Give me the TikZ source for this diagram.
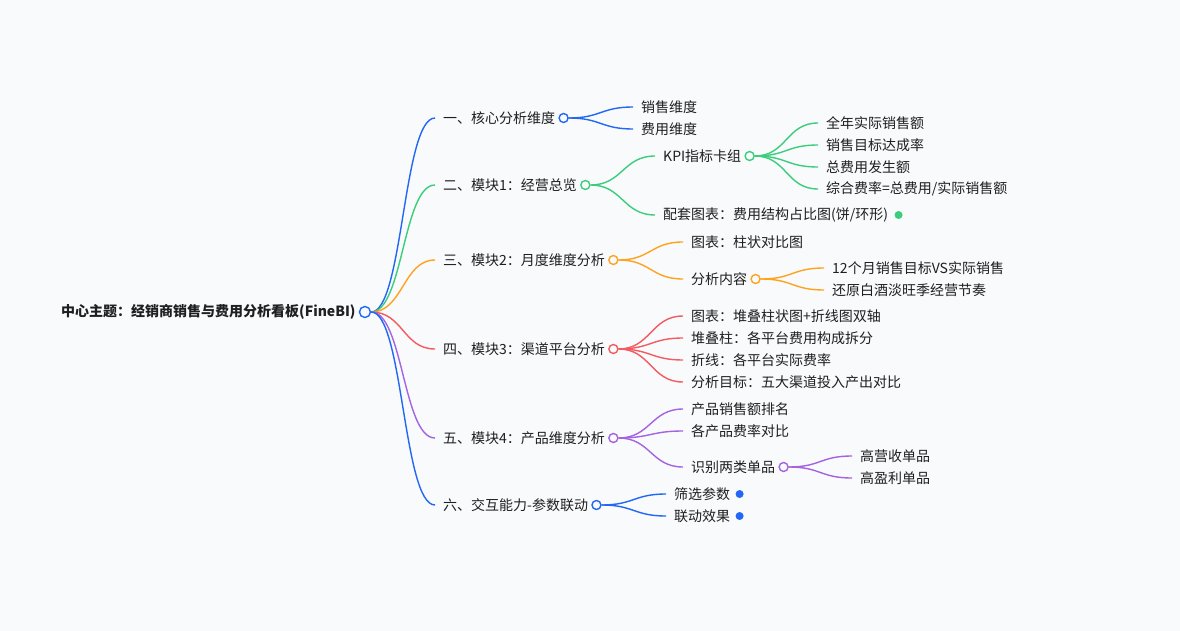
\documentclass[tikz,border=0pt]{standalone}
\usepackage{fontspec}
\setmainfont{Noto Sans CJK SC}
\usepackage{xcolor}
\usetikzlibrary{positioning}
\definecolor{paper}{HTML}{F8FAFC}
\definecolor{mmblue}{HTML}{2268F5}
\definecolor{mmgreen}{HTML}{3CCD7C}
\definecolor{mmorange}{HTML}{FFA31F}
\definecolor{mmred}{HTML}{F45B60}
\definecolor{mmpurple}{HTML}{A463E0}

\begin{document}
\begin{tikzpicture}[x=1pt,y=-1pt,
  every node/.style={font=\fontsize{14}{16}\selectfont, text=black!88, inner sep=0pt, anchor=west},
  hub/.style={circle, draw=#1, fill=paper, line width=1.4pt, minimum size=9pt},
  leafdot/.style={circle, fill=#1, minimum size=8pt},
  link/.style={draw=#1, line width=1.4pt}]
  \fill[paper] (0,0) rectangle (1180,631);

  \begin{scope}[yshift=-1pt]
  % root
  \node[font=\bfseries\fontsize{14}{16}\selectfont] (root) at (61,311) {中心主题：经销商销售与费用分析看板(FineBI)};
  \node[hub=mmblue, minimum size=11pt, right=3pt of root] (rootO) {};

  % first level
  \node (m1) at (443,117) {一、核心分析维度};
  \node[hub=mmblue, right=3pt of m1] (m1O) {};
  \node (m2) at (443,184) {二、模块1：经营总览};
  \node[hub=mmgreen, right=3pt of m2] (m2O) {};
  \node (m3) at (443,259) {三、模块2：月度维度分析};
  \node[hub=mmorange, right=3pt of m3] (m3O) {};
  \node (m4) at (443,348) {四、模块3：渠道平台分析};
  \node[hub=mmred, right=3pt of m4] (m4O) {};
  \node (m5) at (443,437) {五、模块4：产品维度分析};
  \node[hub=mmpurple, right=3pt of m5] (m5O) {};
  \node (m6) at (443,504) {六、交互能力-参数联动};
  \node[hub=mmblue, right=3pt of m6] (m6O) {};

  % second level
  \node (a1) at (641,106) {销售维度};
  \node (a2) at (641,128) {费用维度};

  \node (b1) at (663,155) {KPI指标卡组};
  \node[hub=mmgreen, right=3pt of b1] (b1O) {};
  \node (b2) at (663,214) {配套图表：费用结构占比图(饼/环形)};
  \node[leafdot=mmgreen, right=6pt of b2] (b2D) {};

  \node (c1) at (691,241) {图表：柱状对比图};
  \node (c2) at (691,278) {分析内容};
  \node[hub=mmorange, right=3pt of c2] (c2O) {};

  \node (d1) at (691,315) {图表：堆叠柱状图+折线图双轴};
  \node (d2) at (691,337) {堆叠柱：各平台费用构成拆分};
  \node (d3) at (691,359) {折线：各平台实际费率};
  \node (d4) at (691,381) {分析目标：五大渠道投入产出对比};

  \node (e1) at (691,408) {产品销售额排名};
  \node (e2) at (691,430) {各产品费率对比};
  \node (e3) at (691,466) {识别两类单品};
  \node[hub=mmpurple, right=3pt of e3] (e3O) {};

  \node (f1) at (674,493) {筛选参数};
  \node[leafdot=mmblue, right=5pt of f1] (f1D) {};
  \node (f2) at (674,515) {联动效果};
  \node[leafdot=mmblue, right=5pt of f2] (f2D) {};

  % third level
  \node (b11) at (826,122) {全年实际销售额};
  \node (b12) at (826,144) {销售目标达成率};
  \node (b13) at (826,166) {总费用发生额};
  \node (b14) at (826,188) {综合费率=总费用/实际销售额};

  \node (c21) at (832,267) {12个月销售目标VS实际销售};
  \node (c22) at (832,289) {还原白酒淡旺季经营节奏};

  \node (e31) at (860,455) {高营收单品};
  \node (e32) at (860,477) {高盈利单品};

  % connectors
  \foreach \c/\col in {m1/mmblue,m2/mmgreen,m3/mmorange,m4/mmred,m5/mmpurple,m6/mmblue}
    \draw[link=\col] (rootO.east) .. controls +(32,0) and +(-32,0) .. ([xshift=-8pt]\c.west);

  \foreach \p/\c/\col in {m1O/a1/mmblue,m1O/a2/mmblue,
      m2O/b1/mmgreen,m2O/b2/mmgreen,
      m3O/c1/mmorange,m3O/c2/mmorange,
      m4O/d1/mmred,m4O/d2/mmred,m4O/d3/mmred,m4O/d4/mmred,
      m5O/e1/mmpurple,m5O/e2/mmpurple,m5O/e3/mmpurple,
      m6O/f1/mmblue,m6O/f2/mmblue,
      b1O/b11/mmgreen,b1O/b12/mmgreen,b1O/b13/mmgreen,b1O/b14/mmgreen,
      c2O/c21/mmorange,c2O/c22/mmorange,
      e3O/e31/mmpurple,e3O/e32/mmpurple}
    \draw[link=\col] (\p.east) .. controls +(32,0) and +(-32,0) .. ([xshift=-8pt]\c.west);
  \end{scope}
\end{tikzpicture}
\end{document}
